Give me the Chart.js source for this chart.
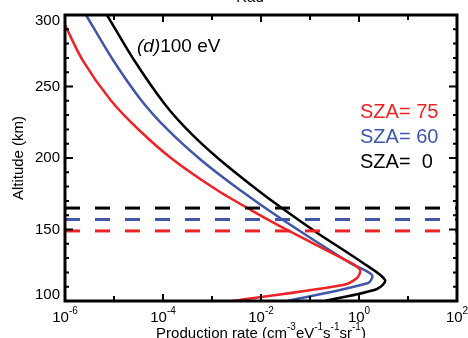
<!DOCTYPE html>
<html>
<head>
<meta charset="utf-8">
<script src="https://cdn.jsdelivr.net/npm/chart.js@4.4.1/dist/chart.umd.min.js"></script>
<style>
  html, body { margin: 0; padding: 0; background: #fff; }
  canvas { display: block; }
</style>
</head>
<body>
<canvas id="myChart" width="468" height="338"></canvas>
<script>
// altitude (km) / production rate pairs, one set per SZA
const altSza75  = [300, 293, 268.5, 240.6, 219.6, 198.6, 177.6, 163.6, 149.7, 126.6, 121.7, 116.1, 111.2, 100];
const rateSza75 = [7.9e-7, 1.0e-6, 2.28e-6, 8.49e-6, 3.24e-5, 1.64e-4, 1.26e-3, 6.25e-3, 3.40e-2, 0.687, 1.05, 0.91, 0.471, 2.56e-3];

const altSza60  = [300, 268.5, 240.6, 219.6, 198.6, 177.6, 156.6, 126.6, 118.2, 112.6, 100];
const rateSza60 = [2.69e-6, 9.55e-6, 3.56e-5, 1.26e-4, 5.97e-4, 3.72e-3, 2.81e-2, 0.655, 1.84, 1.53, 3.40e-2];

const altSza0   = [300, 268.5, 237.1, 216.1, 198.6, 177.6, 165.7, 147.6, 126.6, 114.7, 108.4, 100];
const rateSza0  = [7.19e-6, 2.56e-5, 1.12e-4, 4.0e-4, 1.46e-3, 8.49e-3, 2.49e-2, 0.141, 1.21, 3.4, 2.33, 0.202];

// dashed reference altitudes (km) for SZA 75, 60, 0
const peakAlt = [149, 157, 165];
const szaLabels = ['SZA= 75', 'SZA= 60', 'SZA=  0'];

const xLabelExp = [-6, -4, -2, 0, 2];
const xMinorExp = [-5, -3, -1, 1];
const yMajor = [100, 150, 200, 250, 300];

const RED = '#ee2326';
const BLUE = '#4056a8';
const BLACK = '#000000';
const FONT = "'Liberation Sans', Arial, Helvetica, sans-serif";

const pairs = (alts, rates) => alts.map((a, i) => ({ x: rates[i], y: a }));
const hline = (alt) => [{ x: 1e-6, y: alt }, { x: 1e2, y: alt }];

function drawSup(ctx, parts, x, y, size, supSize, align) {
  // parts: [text, isSuperscript]
  let w = 0;
  parts.forEach(p => {
    ctx.font = (p[1] ? supSize : size) + 'px ' + FONT;
    w += ctx.measureText(p[0]).width;
  });
  let cx = align === 'center' ? x - w / 2 : x;
  ctx.textAlign = 'left';
  ctx.textBaseline = 'alphabetic';
  parts.forEach(p => {
    ctx.font = (p[1] ? supSize : size) + 'px ' + FONT;
    ctx.fillText(p[0], cx, p[1] ? y - size * 0.55 : y);
    cx += ctx.measureText(p[0]).width;
  });
}

const frame = {
  id: 'frame',
  afterDraw(chart) {
    const { ctx, chartArea: a, scales: { x, y } } = chart;
    ctx.save();
    ctx.strokeStyle = '#000';
    ctx.fillStyle = '#000';

    // axis box
    ctx.lineWidth = 3;
    ctx.strokeRect(a.left, a.top, a.right - a.left, a.bottom - a.top);

    // inward ticks on all four sides
    ctx.lineWidth = 2;
    ctx.beginPath();
    const xt = (v, len) => {
      const px = x.getPixelForValue(v);
      ctx.moveTo(px, a.bottom); ctx.lineTo(px, a.bottom - len);
      ctx.moveTo(px, a.top); ctx.lineTo(px, a.top + len);
    };
    xLabelExp.forEach(e => xt(Math.pow(10, e), 7));
    xMinorExp.forEach(e => xt(Math.pow(10, e), 5));
    for (let v = 110; v < 300; v += 10) {
      const len = v % 50 === 0 ? 8 : 4;
      const py = y.getPixelForValue(v);
      ctx.moveTo(a.left, py); ctx.lineTo(a.left + len, py);
      ctx.moveTo(a.right, py); ctx.lineTo(a.right - len, py);
    }
    ctx.stroke();

    // y tick labels
    ctx.font = '15px ' + FONT;
    ctx.textAlign = 'right';
    ctx.textBaseline = 'middle';
    yMajor.forEach(v => {
      let py = y.getPixelForValue(v);
      py = Math.min(Math.max(py, a.top + 5.5), a.bottom - 6);
      ctx.fillText(String(v), a.left - 5, py);
    });

    // x tick labels 10^n
    xLabelExp.forEach(e => {
      drawSup(ctx, [['10', false], [String(e), true]], x.getPixelForValue(Math.pow(10, e)), 322, 15, 10, 'center');
    });

    // x axis title
    drawSup(ctx, [['Production rate (cm', false], ['-3', true], ['eV', false], ['-1', true],
      ['s', false], ['-1', true], ['sr', false], ['-1', true], [')', false]],
      (a.left + a.right) / 2, 338, 15, 10, 'center');

    // panel label
    ctx.textAlign = 'left';
    ctx.textBaseline = 'alphabetic';
    ctx.font = 'italic 19px ' + FONT;
    ctx.fillText('(d)', 137, 52);
    const dw = ctx.measureText('(d)').width;
    ctx.font = '19px ' + FONT;
    ctx.fillText('100 eV', 137 + dw, 52);

    // SZA legend
    const legendColors = [RED, BLUE, BLACK];
    ctx.font = '20px ' + FONT;
    ctx.textBaseline = 'middle';
    szaLabels.forEach((t, i) => {
      ctx.fillStyle = legendColors[i];
      ctx.fillText(t, 360, 112 + i * 25);
    });

    // cut-off title from the figure above
    ctx.fillStyle = '#000';
    ctx.font = '15px ' + FONT;
    ctx.textAlign = 'center';
    ctx.textBaseline = 'alphabetic';
    ctx.fillText('Rad', 250, 2);
    ctx.restore();
  }
};

const ctx = document.getElementById('myChart');
new Chart(ctx, {
  type: 'line',
  data: {
    datasets: [
      { data: hline(peakAlt[2]), borderColor: BLACK, borderWidth: 3, borderDash: [15, 15] },
      { data: hline(peakAlt[1]), borderColor: BLUE, borderWidth: 3, borderDash: [15, 15] },
      { data: hline(peakAlt[0]), borderColor: RED, borderWidth: 3, borderDash: [15, 15] },
      { data: pairs(altSza75, rateSza75), borderColor: RED, borderWidth: 2.5, tension: 0.3 },
      { data: pairs(altSza60, rateSza60), borderColor: BLUE, borderWidth: 2.5, tension: 0.3 },
      { data: pairs(altSza0, rateSza0), borderColor: BLACK, borderWidth: 2.5, tension: 0.3 }
    ]
  },
  options: {
    responsive: false,
    animation: false,
    devicePixelRatio: 1,
    layout: { padding: { top: 15, right: 11, left: 0, bottom: 0 } },
    elements: { point: { radius: 0 } },
    plugins: { legend: { display: false }, tooltip: { enabled: false } },
    scales: {
      x: {
        type: 'logarithmic',
        min: 1e-6,
        max: 1e2,
        grid: { display: false, drawTicks: false },
        border: { display: false },
        ticks: { display: false },
        afterFit: s => { s.height = 37; }
      },
      y: {
        type: 'linear',
        min: 100,
        max: 300,
        grid: { display: false, drawTicks: false },
        border: { display: false },
        ticks: { display: false, stepSize: 50 },
        title: {
          display: true,
          text: 'Altitude (km)',
          color: '#000',
          font: { family: FONT, size: 15 },
          padding: { top: 10, bottom: 0 }
        },
        afterFit: s => { s.width = 65; }
      }
    }
  },
  plugins: [frame]
});
</script>
</body>
</html>
